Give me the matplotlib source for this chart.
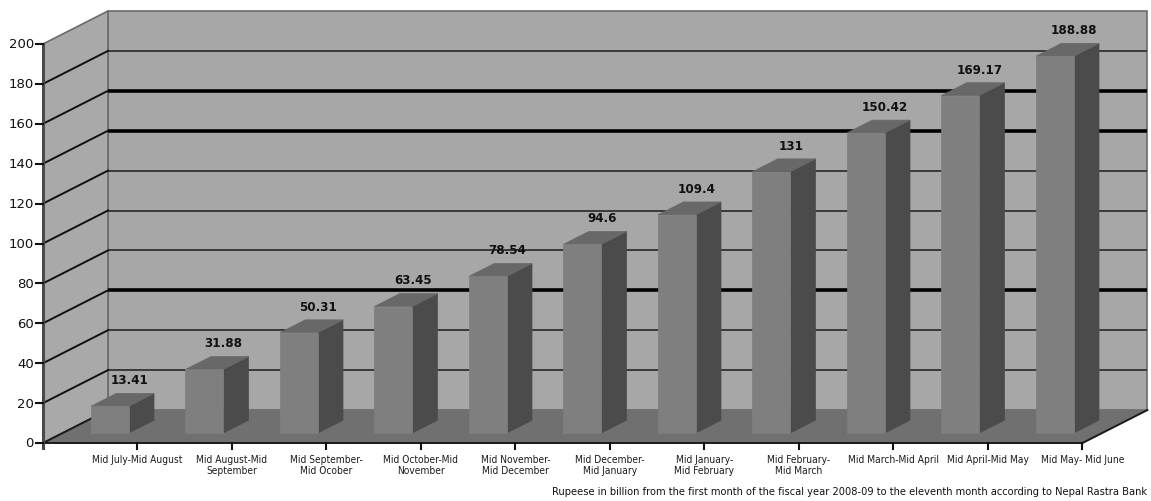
import matplotlib
matplotlib.use("Agg")
import matplotlib.pyplot as plt
from matplotlib.patches import Polygon

# Monthly cumulative figures (Rs. billion)
CATEGORIES = [
    "Mid July-Mid August",
    "Mid August-Mid\nSeptember",
    "Mid September-\nMid Ocober",
    "Mid October-Mid\nNovember",
    "Mid November-\nMid December",
    "Mid December-\nMid January",
    "Mid January-\nMid February",
    "Mid February-\nMid March",
    "Mid March-Mid April",
    "Mid April-Mid May",
    "Mid May- Mid June",
]
VALUES = [13.41, 31.88, 50.31, 63.45, 78.54, 94.6, 109.4, 131, 150.42, 169.17, 188.88]
Y_TICKS = [0, 20, 40, 60, 80, 100, 120, 140, 160, 180, 200]
HEAVY_GRID = [60, 140, 160]
NOTE = ("Rupeese in billion from the first month of the fiscal year 2008-09 "
        "to the eleventh month according to Nepal Rastra Bank")

# pseudo-3D projection (canvas pixels)
X0, Y0 = 43.0, 444.0          # front-left corner of the floor
CAT_W = 94.5                  # width of one category on the front edge
SCALE = 1.995                 # pixels per unit of value
DX, DY = 65.0, -33.0          # full depth vector of the plot box
BAR_D0, BAR_D1 = 0.30, 0.69   # bar depth span (fraction of box depth)
BAR_HALF = 0.20               # half bar width in category units
Y_MAX = 200

WALL = "#a7a7a7"
SIDE_WALL = "#a9a9a9"
FLOOR = "#707070"
BAR_FRONT = "#7f7f7f"
BAR_SIDE = "#4b4b4b"
BAR_TOP = "#686868"


def proj(c, v, d):
    """category position c, value v, depth fraction d -> canvas pixel."""
    return (X0 + c * CAT_W + d * DX, Y0 - v * SCALE + d * DY)


n = len(VALUES)
fig = plt.figure(figsize=(11.51, 5.02), dpi=100)
ax = fig.add_axes([0, 0, 1, 1])
ax.set_xlim(0, 1151)
ax.set_ylim(502, 0)
ax.axis("off")

# back wall
back = [proj(0, 0, 1), proj(n, 0, 1), proj(n, Y_MAX, 1), proj(0, Y_MAX, 1)]
ax.add_patch(Polygon(back, closed=True, fc=WALL, ec="#6a6a6a", lw=1.2, zorder=1))

# side wall
side = [proj(0, 0, 0), proj(0, Y_MAX, 0), proj(0, Y_MAX, 1), proj(0, 0, 1)]
ax.add_patch(Polygon(side, closed=True, fc=SIDE_WALL, ec="#6a6a6a", lw=1.2, zorder=1))

# gridlines on both walls
for t in Y_TICKS[1:-1]:
    heavy = t in HEAVY_GRID
    lw = 2.6 if heavy else 1.4
    col = "#000000" if heavy else "#3a3a3a"
    xa, ya = proj(0, t, 1)
    xb, yb = proj(n, t, 1)
    ax.plot([xa, xb], [ya, yb], color=col, lw=lw, zorder=2, solid_capstyle="butt")
    xf, yf = proj(0, t, 0)
    ax.plot([xf, xa], [yf, ya], color="#111111", lw=1.4, zorder=2)

# floor
floor = [proj(0, 0, 0), proj(n, 0, 0), proj(n, 0, 1), proj(0, 0, 1)]
ax.add_patch(Polygon(floor, closed=True, fc=FLOOR, ec="none", zorder=3))
for a, b in [((0, 0, 0), (n, 0, 0)), ((n, 0, 0), (n, 0, 1)), ((0, 0, 0), (0, 0, 1))]:
    pa, pb = proj(*a), proj(*b)
    ax.plot([pa[0], pb[0]], [pa[1], pb[1]], color="#1a1a1a", lw=1.4, zorder=4)

# value axis line and ticks
xa, ya = proj(0, 0, 0)
xt, yt = proj(0, Y_MAX, 0)
ax.plot([xa, xt], [ya + 5, yt], color="#4a4a4a", lw=2.2, zorder=4)
for t in Y_TICKS:
    x, y = proj(0, t, 0)
    ax.plot([x - 7, x], [y, y], color="#111111", lw=1.5, zorder=4)
    ax.text(x - 9, y, str(t), ha="right", va="center", fontsize=9.5,
            color="#111111", zorder=5)

# category ticks and labels (placed at the category boundaries)
for i, label in enumerate(CATEGORIES):
    x, y = proj(i + 1, 0, 0)
    ax.plot([x, x], [y, y + 6], color="#111111", lw=1.5, zorder=4)
    ax.text(x, y + 11, label, ha="center", va="top", fontsize=7.3,
            fontstretch="condensed", linespacing=1.15, color="#1a1a1a", zorder=5)

# bars
for i, v in enumerate(VALUES):
    cl, cr = i + 0.5 - BAR_HALF, i + 0.5 + BAR_HALF
    front = [proj(cl, 0, BAR_D0), proj(cr, 0, BAR_D0), proj(cr, v, BAR_D0), proj(cl, v, BAR_D0)]
    right = [proj(cr, 0, BAR_D0), proj(cr, 0, BAR_D1), proj(cr, v, BAR_D1), proj(cr, v, BAR_D0)]
    top = [proj(cl, v, BAR_D0), proj(cr, v, BAR_D0), proj(cr, v, BAR_D1), proj(cl, v, BAR_D1)]
    ax.add_patch(Polygon(right, closed=True, fc=BAR_SIDE, ec=BAR_SIDE, lw=0.5, zorder=6))
    ax.add_patch(Polygon(top, closed=True, fc=BAR_TOP, ec=BAR_TOP, lw=0.5, zorder=6))
    ax.add_patch(Polygon(front, closed=True, fc=BAR_FRONT, ec=BAR_FRONT, lw=0.5, zorder=6))
    lx, ly = proj(i + 0.5, v, 0.6)
    ax.annotate(f"{v:g}", (lx, ly), xytext=(0, 12), textcoords="offset points",
                ha="center", va="center", fontsize=9.5, fontweight="bold",
                fontstretch="condensed", color="#111111", zorder=7)

fig.text(1147 / 1151, 1 - 492 / 502, NOTE, ha="right", va="center",
         fontsize=7.9, fontstretch="condensed", color="#111111")

fig.savefig("out.png", dpi=100, facecolor="white")
